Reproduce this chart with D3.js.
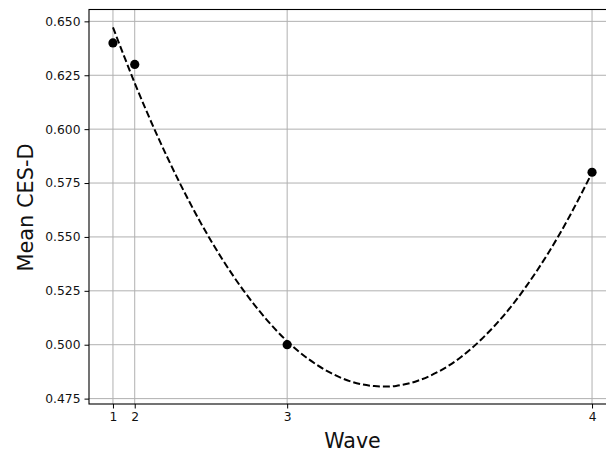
<!DOCTYPE html>
<html><head><meta charset="utf-8">
<script src="https://cdn.jsdelivr.net/npm/d3@7"></script>
<style>body{margin:0;background:#fff;} svg{display:block;font-family:"DejaVu Sans",sans-serif;}</style>
</head><body><svg id="c" width="606" height="454"></svg>
<script>
// Data
const waveLabels = ["1","2","3","4"];
const waveTime = [0, 1, 8, 22];
const meanCESD = [0.64, 0.63, 0.50, 0.58];
const fitTime = [0,1,2,3,4,5,6,7,8,9,10,11,12,13,14,15,16,17,18,19,20,21,22];
const fitValue = [0.6472,0.6214,0.5978,0.5764,0.5571,0.5400,0.5251,0.5123,0.5016,0.4932,0.4869,0.4827,0.4808,0.4809,0.4833,0.4878,0.4944,0.5033,0.5142,0.5274,0.5427,0.5602,0.5798];
const yTickValues = [0.475, 0.500, 0.525, 0.550, 0.575, 0.600, 0.625, 0.650];

// Layout
const mL = 89, mR = 616, mT = 9.5, mB = 404;
const svg = d3.select("#c");

const x = d3.scaleLinear().domain([-1.1, 23.1]).range([mL, mR]);
const y = d3.scaleLinear().domain([0.4725, 0.6555]).range([mB, mT]);

const plot = svg.append("g");

// grid
plot.append("g").selectAll("line").data(waveTime).join("line")
  .attr("x1", d => x(d)).attr("x2", d => x(d)).attr("y1", mT).attr("y2", mB)
  .attr("stroke", "#b0b0b0").attr("stroke-width", 1);
plot.append("g").selectAll("line").data(yTickValues).join("line")
  .attr("x1", mL).attr("x2", mR).attr("y1", d => y(d)).attr("y2", d => y(d))
  .attr("stroke", "#b0b0b0").attr("stroke-width", 1);

// axes
const xAxis = d3.axisBottom(x).tickValues(waveTime).tickFormat((d, i) => waveLabels[i]).tickSize(4.5).tickPadding(3.5);
const yAxis = d3.axisLeft(y).tickValues(yTickValues).tickFormat(d3.format(".3f")).tickSize(4.5).tickPadding(4);

const gx = svg.append("g").attr("transform", `translate(0,${mB})`).call(xAxis);
const gy = svg.append("g").attr("transform", `translate(${mL},0)`).call(yAxis);
[gx, gy].forEach(g => {
  g.select(".domain").remove();
  g.selectAll(".tick line").attr("stroke", "#000").attr("stroke-width", 1);
  g.selectAll(".tick text").attr("fill", "#111").style("font-size", "12.3px").style("font-family", "DejaVu Sans, sans-serif");
});

// spines
svg.append("rect").attr("x", mL).attr("y", mT).attr("width", mR - mL).attr("height", mB - mT)
  .attr("fill", "none").attr("stroke", "#000").attr("stroke-width", 1.1);

// points
svg.append("g").selectAll("circle").data(waveTime).join("circle")
  .attr("cx", d => x(d)).attr("cy", (d, i) => y(meanCESD[i])).attr("r", 4.6).attr("fill", "#000");

// fit curve
const line = d3.line().x(d => x(d)).y((d, i) => y(fitValue[i])).curve(d3.curveNatural);
svg.append("path").datum(fitTime).attr("d", line)
  .attr("fill", "none").attr("stroke", "#000").attr("stroke-width", 2).attr("stroke-dasharray", "7,3");

// labels
svg.append("text").attr("x", 352.5).attr("y", 447.5).attr("text-anchor", "middle")
  .style("font-size", "20.6px").attr("fill", "#111").text("Wave");
svg.append("text").attr("transform", `translate(33,207.5) rotate(-90)`).attr("text-anchor", "middle")
  .style("font-size", "20.9px").attr("fill", "#111").text("Mean CES-D");
</script></body></html>
